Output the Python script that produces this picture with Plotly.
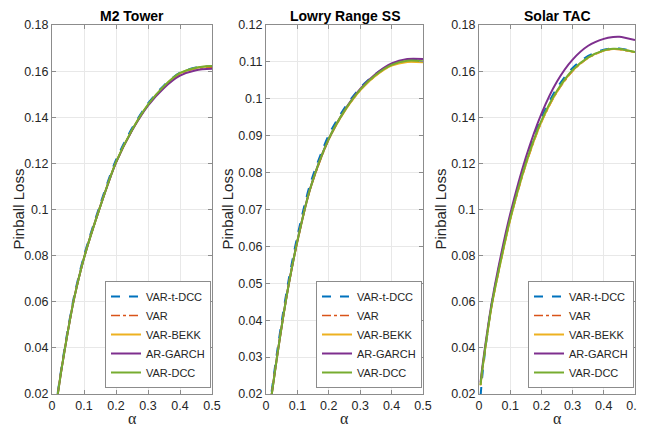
import plotly.graph_objects as go

# ---------------- data ----------------
series_names = ["VAR-t-DCC", "VAR", "VAR-BEKK", "AR-GARCH", "VAR-DCC"]

# M2 Tower
m2_alpha = [0.01, 0.02, 0.03, 0.05, 0.07, 0.1, 0.15, 0.2, 0.25, 0.3, 0.35, 0.4, 0.45, 0.5]
m2_var_t_dcc = [0.0125, 0.0225, 0.0318, 0.0484, 0.0630, 0.0800, 0.1020, 0.1215, 0.1352, 0.1460, 0.1538, 0.1593, 0.1616, 0.1621]
m2_var = [0.0120, 0.0217, 0.0309, 0.0474, 0.0619, 0.0789, 0.1009, 0.1203, 0.1343, 0.1453, 0.1532, 0.1588, 0.1611, 0.1617]
m2_var_bekk = [0.0120, 0.0218, 0.0310, 0.0475, 0.0620, 0.0790, 0.1010, 0.1204, 0.1344, 0.1454, 0.1534, 0.1590, 0.1614, 0.1621]
m2_ar_garch = [0.0120, 0.0218, 0.0310, 0.0475, 0.0620, 0.0790, 0.1010, 0.1203, 0.1342, 0.1450, 0.1527, 0.1580, 0.1604, 0.1610]
m2_var_dcc = [0.0120, 0.0218, 0.0310, 0.0475, 0.0620, 0.0790, 0.1010, 0.1205, 0.1345, 0.1455, 0.1535, 0.1592, 0.1615, 0.1622]

# Lowry Range SS
lr_alpha = [0.01, 0.02, 0.035, 0.053, 0.073, 0.1, 0.14, 0.2, 0.25, 0.3, 0.35, 0.4, 0.45, 0.5]
lr_var_t_dcc = [0.0158, 0.0220, 0.0312, 0.0413, 0.0513, 0.0628, 0.0767, 0.0902, 0.0975, 0.1030, 0.1068, 0.1094, 0.1105, 0.1104]
lr_var = [0.0150, 0.0210, 0.0299, 0.0399, 0.0499, 0.0613, 0.0753, 0.0890, 0.0966, 0.1023, 0.1063, 0.1091, 0.1101, 0.1100]
lr_var_bekk = [0.0150, 0.0210, 0.0299, 0.0399, 0.0499, 0.0613, 0.0753, 0.0890, 0.0966, 0.1023, 0.1063, 0.1090, 0.1100, 0.1099]
lr_ar_garch = [0.0150, 0.0210, 0.0300, 0.0400, 0.0500, 0.0615, 0.0755, 0.0892, 0.0969, 0.1027, 0.1068, 0.1096, 0.1108, 0.1108]
lr_var_dcc = [0.0150, 0.0210, 0.0300, 0.0400, 0.0500, 0.0615, 0.0755, 0.0892, 0.0968, 0.1025, 0.1065, 0.1092, 0.1103, 0.1102]

# Solar TAC
st_alpha = [0.005, 0.01, 0.02, 0.04, 0.07, 0.1, 0.15, 0.2, 0.25, 0.3, 0.35, 0.4, 0.43, 0.45, 0.5]
st_var_t_dcc = [0.0190, 0.0270, 0.0390, 0.0585, 0.0788, 0.0970, 0.1212, 0.1398, 0.1527, 0.1614, 0.1666, 0.1693, 0.1699, 0.1698, 0.1685]
st_var = [0.0238, 0.0298, 0.0398, 0.0577, 0.0775, 0.0955, 0.1193, 0.1378, 0.1509, 0.1600, 0.1657, 0.1688, 0.1695, 0.1694, 0.1682]
st_var_bekk = [0.0238, 0.0298, 0.0398, 0.0577, 0.0776, 0.0956, 0.1195, 0.1380, 0.1511, 0.1602, 0.1658, 0.1689, 0.1696, 0.1695, 0.1683]
st_ar_garch = [0.0250, 0.0310, 0.0410, 0.0590, 0.0800, 0.0980, 0.1225, 0.1415, 0.1555, 0.1650, 0.1710, 0.1740, 0.1748, 0.1749, 0.1735]
st_var_dcc = [0.0240, 0.0300, 0.0400, 0.0580, 0.0780, 0.0960, 0.1200, 0.1385, 0.1515, 0.1605, 0.1660, 0.1690, 0.1697, 0.1696, 0.1683]

panel_titles = ["M2 Tower", "Lowry Range SS", "Solar TAC"]
x_ticks = [0, 0.1, 0.2, 0.3, 0.4, 0.5]
x_ticklabels = ["0", "0.1", "0.2", "0.3", "0.4", "0.5"]
y_ticks_a = [0.02, 0.04, 0.06, 0.08, 0.1, 0.12, 0.14, 0.16, 0.18]
y_ticklabels_a = ["0.02", "0.04", "0.06", "0.08", "0.1", "0.12", "0.14", "0.16", "0.18"]
y_ticks_b = [0.02, 0.03, 0.04, 0.05, 0.06, 0.07, 0.08, 0.09, 0.1, 0.11, 0.12]
y_ticklabels_b = ["0.02", "0.03", "0.04", "0.05", "0.06", "0.07", "0.08", "0.09", "0.1", "0.11", "0.12"]

# ---------------- styling ----------------
W, H = 645, 440
OFF = 8  # page body margin offset
colors = ["#0072BD", "#D95319", "#EDB120", "#7E2F8E", "#77AC30"]
dashes = ["dash", "dashdot", "solid", "solid", "solid"]
widths = [2, 1.6, 2, 2, 2]
FONT = "Liberation Sans Narrow, Liberation Sans, Arial, sans-serif"


def fx(p):
    return (p - OFF) / W


def fy(p):
    return (H - (p - OFF)) / H


panels = [
    (m2_alpha, [m2_var_t_dcc, m2_var, m2_var_bekk, m2_ar_garch, m2_var_dcc], [0.02, 0.18], y_ticks_a, y_ticklabels_a),
    (lr_alpha, [lr_var_t_dcc, lr_var, lr_var_bekk, lr_ar_garch, lr_var_dcc], [0.02, 0.12], y_ticks_b, y_ticklabels_b),
    (st_alpha, [st_var_t_dcc, st_var, st_var_bekk, st_ar_garch, st_var_dcc], [0.02, 0.18], y_ticks_a, y_ticklabels_a),
]

# pixel geometry (screen pixels) of the axes boxes
x_px = [(52, 212), (266, 423), (479, 635)]
ylab_px = [18, 227, 440]
y_top, y_bot = 25, 394

fig = go.Figure()
layout = dict(
    width=W, height=H,
    margin=dict(l=0, r=0, t=0, b=0, pad=0, autoexpand=False),
    paper_bgcolor="white", plot_bgcolor="white",
    font=dict(family=FONT, size=12, color="#262626"),
    showlegend=True,
)
annotations = []

for i, (alpha, ys, yr, yt, ytl) in enumerate(panels):
    n = "" if i == 0 else str(i + 1)
    xa, ya = "x" + n, "y" + n
    leg = "legend" + n
    for j, name in enumerate(series_names):
        fig.add_trace(go.Scatter(
            x=alpha, y=ys[j], name=name, mode="lines",
            line=dict(color=colors[j], dash=dashes[j], width=widths[j], shape="spline", smoothing=0.8),
            xaxis=xa, yaxis=ya, legend=leg,
        ))
    x0, x1 = x_px[i]
    axis_common = dict(
        showgrid=True, gridcolor="#e8e8e8", gridwidth=1,
        showline=True, linecolor="#8c8c8c", linewidth=1, mirror="ticks",
        ticks="inside", ticklen=4, tickcolor="#8c8c8c",
        tickfont=dict(family=FONT, size=12.5, color="#262626"),
        zeroline=False, automargin=False,
    )
    layout["xaxis" + n] = dict(
        axis_common, domain=[fx(x0), fx(x1)], range=[0, 0.5],
        tickvals=x_ticks, ticktext=x_ticklabels, anchor=ya,
    )
    layout["yaxis" + n] = dict(
        axis_common, domain=[fy(y_bot), fy(y_top)], range=yr,
        tickvals=yt, ticktext=ytl, anchor=xa,
    )
    layout[leg] = dict(
        x=fx(x1 - 1), y=fy(y_bot - 6), xanchor="right", yanchor="bottom",
        bgcolor="white", bordercolor="#8c8c8c", borderwidth=1,
        font=dict(family=FONT, size=11, color="#262626"),
        itemwidth=30, tracegroupgap=0,
    )
    cx = (x0 + x1) / 2
    annotations.append(dict(
        text="<b>" + panel_titles[i] + "</b>", x=fx(cx), y=fy(16),
        xref="paper", yref="paper", xanchor="center", yanchor="middle", showarrow=False,
        font=dict(family=FONT, size=14, color="black"),
    ))
    annotations.append(dict(
        text="α", x=fx(cx), y=fy(418), xref="paper", yref="paper",
        xanchor="center", yanchor="middle", showarrow=False,
        font=dict(family="Liberation Serif, DejaVu Serif, serif", size=16, color="#262626"),
    ))
    annotations.append(dict(
        text="Pinball Loss", x=fx(ylab_px[i]), y=fy((y_top + y_bot) / 2),
        xref="paper", yref="paper", xanchor="center", yanchor="middle", showarrow=False, textangle=-90,
        font=dict(family=FONT, size=15, color="#262626"),
    ))

layout["annotations"] = annotations
fig.update_layout(**layout)
fig.write_html("out.html")
